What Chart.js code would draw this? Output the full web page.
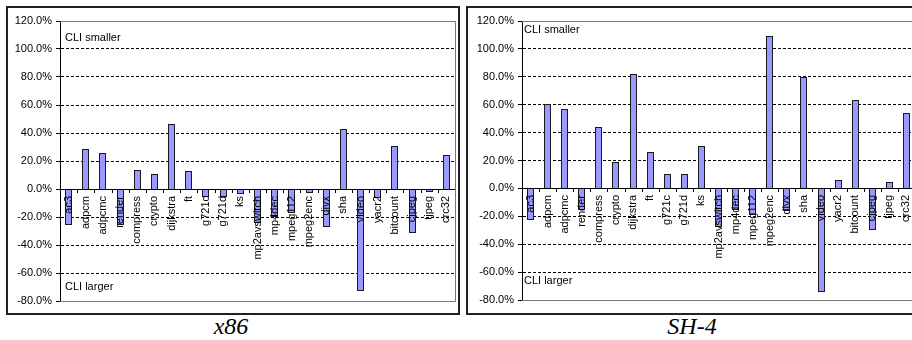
<!DOCTYPE html>
<html>
<head>
<meta charset="utf-8">
<script src="https://cdn.jsdelivr.net/npm/chart.js@4"></script>
<style>
  html, body { margin: 0; padding: 0; background: #fff; overflow: hidden; }
  body { width: 912px; height: 340px; position: relative; }
  .frame { position: absolute; border: 2px solid #222; box-sizing: border-box; }
  canvas { position: absolute; }
  .caption { position: absolute; font-family: 'Liberation Serif', 'Times New Roman', serif; font-style: italic; font-size: 24px; color: #000; text-align: center; width: 200px; }
</style>
</head>
<body>
<div class="frame" style="left:6px; top:6px; width:454px; height:309px;"></div>
<div class="frame" style="left:466px; top:6px; width:460px; height:309px;"></div>
<canvas id="x86" width="449" height="305" style="left:8px; top:8px;"></canvas>
<canvas id="sh4" width="449" height="305" style="left:468px; top:8px;"></canvas>
<div class="caption" style="left:131px; top:313px;">x86</div>
<div class="caption" style="left:592px; top:313px;">SH-4</div>
<script>
// Benchmarks, in plotting order
const categories = ['ac3', 'adpcm', 'adpcmc', 'render', 'compress', 'crypto', 'dijkstra', 'ft',
  'g721c', 'g721d', 'ks', 'mp2avswitch', 'mp4dec', 'mpeg112', 'mpeg2enc', 'divx', 'sha', 'video',
  'yacr2', 'bitcount', 'cjpeg', 'tjpeg', 'crc32'];

// Relative code size difference (%) per benchmark
const x86Values = [-26, 28.3, 26, -26, 13.6, 10.7, 46.2, 12.9, -5.5, -6, -3.8, -24.5, -19.8,
  -17.4, -3, -27, 42.9, -72.9, -6.7, 30.5, -31.7, -2.4, 24];
const sh4Values = [-23, 60.4, 56.8, -15.4, 43.9, 19, 82.1, 26.2, 10.2, 10, 30.5, -27.4, -15.4,
  -19, 109.6, -16, 80.2, -74.5, 6.1, 63.7, -29.8, 4.4, 54.2];

// Value axis range
const yMin = -80;
const yMax = 120;
const yStep = 20;

const noteTop = 'CLI smaller';
const noteBottom = 'CLI larger';

const FONT = "'Liberation Sans', Arial, sans-serif";

// Snap bar rectangles to whole pixels so their outlines stay crisp
const snapPlugin = {
  id: 'snap',
  beforeDatasetsDraw(chart) {
    chart.getDatasetMeta(0).data.forEach(bar => {
      bar.width = 7;
      bar.x = Math.floor(bar.x) + 0.5;
      bar.y = Math.round(bar.y);
      bar.base = Math.round(bar.base);
    });
  }
};

// Draws plot frame, zero axis with category ticks, rotated category names and the two notes
const decorPlugin = {
  id: 'decor',
  afterDatasetsDraw(chart, args, opts) {
    const { ctx, chartArea: a, scales } = chart;
    const y0 = Math.round(scales.y.getPixelForValue(0));
    ctx.save();
    // plot frame (top, right, bottom)
    ctx.strokeStyle = '#777';
    ctx.lineWidth = 1;
    ctx.beginPath();
    ctx.moveTo(a.left, a.top + 0.5); ctx.lineTo(a.right + 0.5, a.top + 0.5);
    ctx.lineTo(a.right + 0.5, a.bottom + 0.5); ctx.lineTo(a.left, a.bottom + 0.5);
    ctx.stroke();
    // zero axis
    ctx.strokeStyle = '#000';
    ctx.beginPath();
    ctx.moveTo(a.left, y0 + 0.5); ctx.lineTo(a.right, y0 + 0.5);
    ctx.stroke();
    // category boundary ticks
    const n = categories.length;
    const step = (a.right - a.left) / n;
    ctx.beginPath();
    for (let i = 1; i < n; i++) {
      const x = Math.round(a.left + i * step) + 0.5;
      ctx.moveTo(x, y0); ctx.lineTo(x, y0 + 4);
    }
    ctx.stroke();
    // category names, reading bottom to top
    ctx.fillStyle = '#000';
    ctx.font = '11px ' + FONT;
    ctx.textAlign = 'right';
    ctx.textBaseline = 'middle';
    categories.forEach((c, i) => {
      const x = scales.x.getPixelForValue(i);
      ctx.save();
      ctx.translate(x, y0 + 7);
      ctx.rotate(-Math.PI / 2);
      ctx.fillText(c, 0, 0);
      ctx.restore();
    });
    // notes
    ctx.textAlign = 'left';
    ctx.fillText(noteTop, a.left + opts.noteX, a.top + opts.topY);
    ctx.fillText(noteBottom, a.left + opts.noteX, a.bottom - opts.bottomY);
    ctx.restore();
  }
};

function makeChart(id, values, axisWidth, padBottom, notes) {
  return new Chart(document.getElementById(id), {
    type: 'bar',
    data: {
      labels: categories,
      datasets: [{
        data: values,
        backgroundColor: '#9999FF',
        borderColor: '#1a1a1a',
        borderWidth: 1,
        inflateAmount: 0,
        barPercentage: 0.42,
        categoryPercentage: 1
      }]
    },
    options: {
      responsive: false,
      devicePixelRatio: 1,
      animation: false,
      layout: { padding: { left: 0, top: 13, right: 2, bottom: padBottom } },
      plugins: { legend: { display: false }, tooltip: { enabled: false }, decor: notes },
      scales: {
        x: { display: false, offset: true },
        y: {
          min: yMin, max: yMax,
          afterFit(scale) { scale.width = axisWidth; },
          ticks: {
            stepSize: yStep,
            color: '#000',
            padding: 4,
            font: { family: FONT, size: 11 },
            callback: v => v.toFixed(1) + '%'
          },
          grid: {
            color: c => (c.tick && (c.tick.value === yMin || c.tick.value === yMax || c.tick.value === 0)) ? 'rgba(0,0,0,0)' : '#000',
            lineWidth: 1,
            drawTicks: true,
            tickLength: 4,
            tickColor: '#000'
          },
          border: { display: true, color: '#000', width: 1, dash: [3, 2] }
        }
      }
    },
    plugins: [snapPlugin, decorPlugin]
  });
}

makeChart('x86', x86Values, 52, 12, { noteX: 5, topY: 17, bottomY: 14 });
makeChart('sh4', sh4Values, 54, 13, { noteX: 2, topY: 9, bottomY: 19 });
</script>
</body>
</html>
